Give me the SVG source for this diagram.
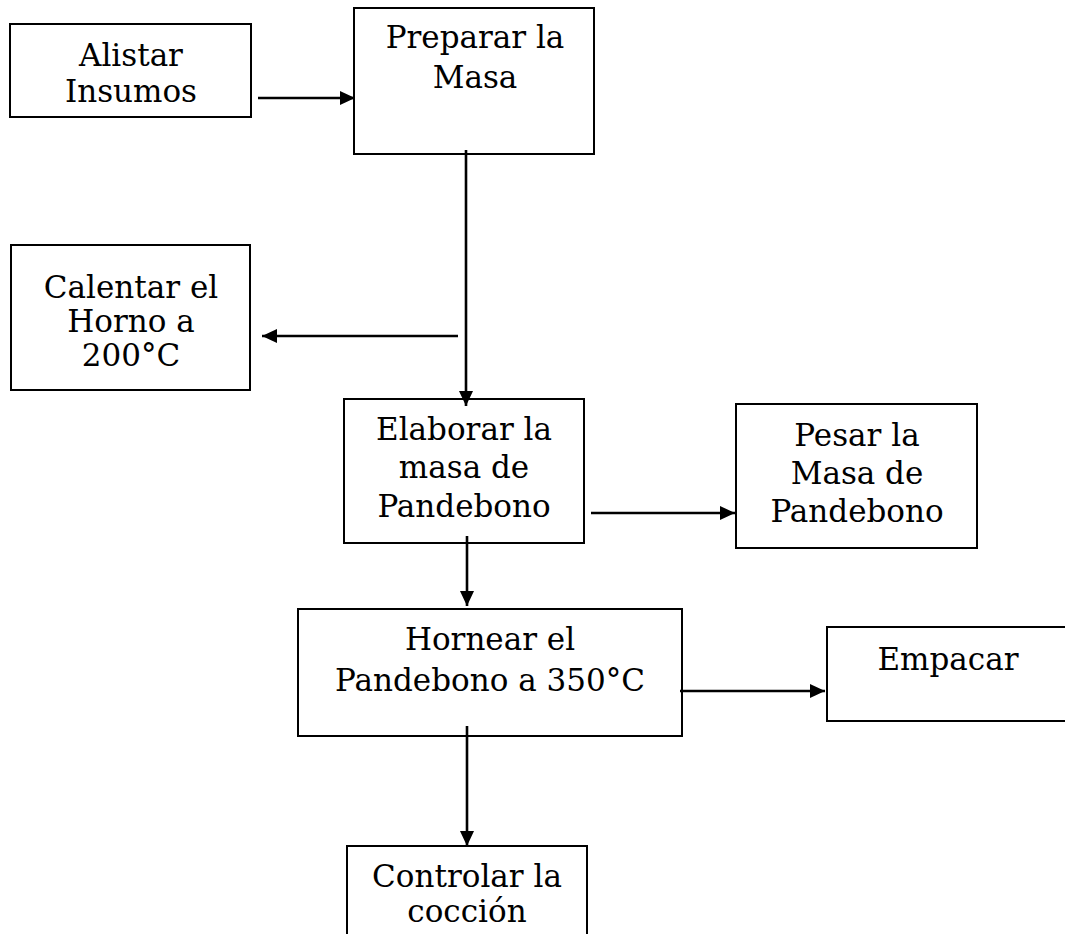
<svg xmlns="http://www.w3.org/2000/svg" width="1065" height="934" viewBox="0 0 1065 934">
  <style>
    .box { fill: #ffffff; stroke: #000000; stroke-width: 2; }
    .lbl { font-family: "DejaVu Serif", "Liberation Serif", serif; font-size: 31px; fill: #000000; text-anchor: middle; }
    .conn { fill: none; stroke: #000000; stroke-width: 2.6; }
  </style>
  <defs>
    <marker id="arr" markerUnits="userSpaceOnUse" markerWidth="16" markerHeight="14" refX="15" refY="7" orient="auto">
      <path d="M0,0 L15,7 L0,14 Z" fill="#000000"/>
    </marker>
  </defs>
  <rect x="0" y="0" width="1065" height="934" fill="#ffffff"/>

  <g id="n-alistar">
    <rect class="box" x="10" y="24" width="241" height="93"/>
    <text class="lbl" x="131" y="66">Alistar</text>
    <text class="lbl" x="131" y="102">Insumos</text>
  </g>

  <g id="n-preparar">
    <rect class="box" x="354" y="8" width="240" height="146"/>
    <text class="lbl" x="475" y="48">Preparar la</text>
    <text class="lbl" x="475" y="88">Masa</text>
  </g>

  <g id="n-calentar">
    <rect class="box" x="11" y="245" width="239" height="145"/>
    <text class="lbl" x="131" y="298">Calentar el</text>
    <text class="lbl" x="131" y="332">Horno a</text>
    <text class="lbl" x="131" y="366">200°C</text>
  </g>

  <g id="n-elaborar">
    <rect class="box" x="344" y="399" width="240" height="144"/>
    <text class="lbl" x="464" y="440">Elaborar la</text>
    <text class="lbl" x="464" y="478">masa de</text>
    <text class="lbl" x="464" y="517">Pandebono</text>
  </g>

  <g id="n-pesar">
    <rect class="box" x="736" y="404" width="241" height="144"/>
    <text class="lbl" x="857" y="446">Pesar la</text>
    <text class="lbl" x="857" y="484">Masa de</text>
    <text class="lbl" x="857" y="522">Pandebono</text>
  </g>

  <g id="n-hornear">
    <rect class="box" x="298" y="609" width="384" height="127"/>
    <text class="lbl" x="490" y="650">Hornear el</text>
    <text class="lbl" x="490" y="691">Pandebono a 350°C</text>
  </g>

  <g id="n-empacar">
    <rect class="box" x="827" y="627" width="250" height="94"/>
    <text class="lbl" x="948" y="670">Empacar</text>
  </g>

  <g id="n-controlar">
    <rect class="box" x="347" y="846" width="240" height="120"/>
    <text class="lbl" x="467" y="887">Controlar la</text>
    <text class="lbl" x="467" y="922">cocción</text>
  </g>

  <g id="connectors">
    <line class="conn" x1="258" y1="98" x2="355" y2="98" marker-end="url(#arr)"/>
    <line class="conn" x1="466" y1="150" x2="466" y2="406" marker-end="url(#arr)"/>
    <line class="conn" x1="458" y1="336" x2="262" y2="336" marker-end="url(#arr)"/>
    <line class="conn" x1="591" y1="513" x2="735" y2="513" marker-end="url(#arr)"/>
    <line class="conn" x1="467" y1="536" x2="467" y2="606" marker-end="url(#arr)"/>
    <line class="conn" x1="680" y1="691" x2="825" y2="691" marker-end="url(#arr)"/>
    <line class="conn" x1="467" y1="726" x2="467" y2="846" marker-end="url(#arr)"/>
  </g>
</svg>
